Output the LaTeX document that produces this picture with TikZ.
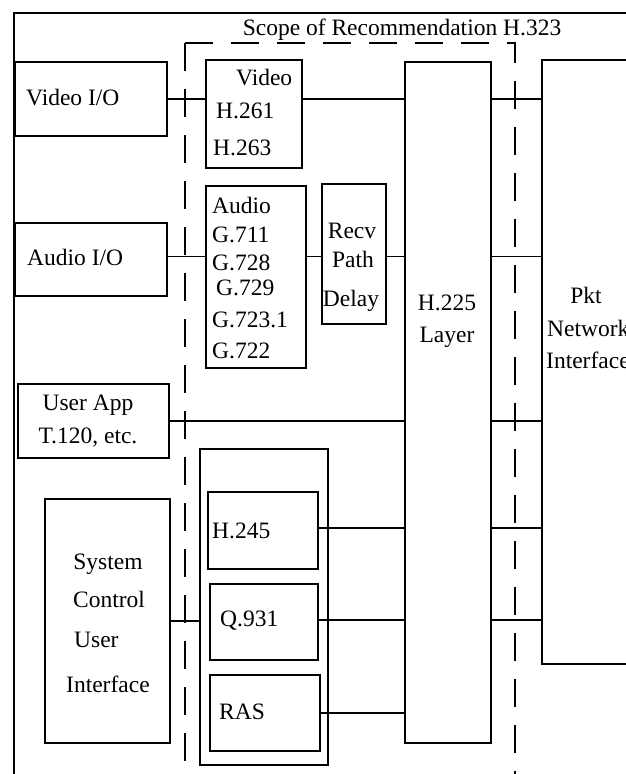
\documentclass[tikz,border=0pt]{standalone}
\usepackage{fontspec}
\setmainfont{Liberation Serif}
\begin{document}
\begin{tikzpicture}[x=1pt,y=-1pt,
  box/.style={draw, line width=1.8pt, inner sep=0pt, anchor=north west},
  txt/.style={inner sep=0pt, font=\fontsize{23.5}{28}\selectfont},
  tw/.style={txt, anchor=base west},
  tc/.style={txt, anchor=base},
  wire/.style={line width=1.8pt},
  scope/.style={line width=1.7pt, dash pattern=on 28pt off 18pt}]
\useasboundingbox (0,0) rectangle (626,774);
\clip (0,0) rectangle (626,774);
\fill[white] (0,0) rectangle (626,774);
% outer frame
\draw[line width=2pt] (14,780) -- (14,13) -- (640,13);
% scope
\node[tc] (scopetxt) at (402,35) {Scope of Recommendation H.323};
\draw[scope] (185,43) -- (515,43) -- (515,780);
\draw[scope] (185,43) -- (185,766);
% boxes
\node[box, minimum width=152, minimum height=74] (vio) at (14,61) {};
\node[box, minimum width=96, minimum height=108] (video) at (205,59) {};
\node[box, minimum width=152, minimum height=73] (aio) at (14,222) {};
\node[box, minimum width=100, minimum height=182] (audio) at (205,185) {};
\node[box, minimum width=64, minimum height=140] (recv) at (321,183) {};
\node[box, minimum width=86, minimum height=681] (h225) at (404,61) {};
\node[box, minimum width=200, minimum height=604] (pkt) at (541,59) {};
\node[box, minimum width=151, minimum height=74] (uapp) at (17,383) {};
\node[box, minimum width=128, minimum height=316] (ctrl) at (199,448) {};
\node[box, minimum width=110, minimum height=77] (h245) at (207,491) {};
\node[box, minimum width=108, minimum height=76] (q931) at (209,583) {};
\node[box, minimum width=110, minimum height=76] (ras) at (209,674) {};
\node[box, minimum width=125, minimum height=244] (sys) at (44,498) {};
% texts
\node[tw] (tvio) at (26,105) {Video I/O};
\node[tw] (tvid1) at (236,85) {Video};
\node[tw] (tvid2) at (216,118) {H.261};
\node[tw] (tvid3) at (213,155) {H.263};
\node[tw] (taio) at (27,265) {Audio I/O};
\node[tw] (tau1) at (212,213) {Audio};
\node[tw] (tau2) at (212,242) {G.711};
\node[tw] (tau3) at (212,270) {G.728};
\node[tw] (tau4) at (216,295) {G.729};
\node[tw] (tau5) at (212,327) {G.723.1};
\node[tw] (tau6) at (212,358) {G.722};
\node[tc] (trc1) at (352,238) {Recv};
\node[tc] (trc2) at (353,267) {Path};
\node[tc] (trc3) at (351,306) {Delay};
\node[tc] (th1) at (447,310) {H.225};
\node[tc] (th2) at (447,342) {Layer};
\node[tc] (tp1) at (586,303) {Pkt};
\node[tw] (tp2) at (547,336) {Network};
\node[tw] (tp3) at (546,368) {Interface};
\node[tc] (tua1) at (88,410) {User App};
\node[tc] (tua2) at (88,443) {T.120, etc.};
\node[tw] (th245) at (212,538) {H.245};
\node[tw] (tq931) at (220,626) {Q.931};
\node[tw] (tras) at (219,719) {RAS};
\node[tc] (ts1) at (108,569) {System};
\node[tc] (ts2) at (109,607) {Control};
\node[tw] (ts3) at (74,647) {User};
\node[tw] (ts4) at (66,692) {Interface};
% connector anchors
\coordinate (caio) at ([yshift=3pt]aio.east);
\coordinate (c245) at ([yshift=2.5pt]h245.east);
\coordinate (c931) at ([yshift=2pt]q931.east);
% connectors
\draw[wire] (vio.east) -- (vio.east -| video.west);
\draw[wire] (video.east |- vio.east) -- (h225.west |- vio.east);
\draw[wire] (h225.east |- vio.east) -- (pkt.west |- vio.east);
\draw[wire] (caio) -- (caio -| audio.west);
\draw[wire] (audio.east |- caio) -- (recv.west |- caio);
\draw[wire] (recv.east |- caio) -- (h225.west |- caio);
\draw[wire] (h225.east |- caio) -- (pkt.west |- caio);
\draw[wire] (uapp.east) -- (uapp.east -| h225.west);
\draw[wire] (h225.east |- uapp.east) -- (pkt.west |- uapp.east);
\draw[wire] (c245) -- (c245 -| h225.west);
\draw[wire] (h225.east |- c245) -- (pkt.west |- c245);
\draw[wire] (c931) -- (c931 -| h225.west);
\draw[wire] (h225.east |- c931) -- (pkt.west |- c931);
\draw[wire] (ras.east) -- (ras.east -| h225.west);
\draw[wire] (sys.east) -- (sys.east -| ctrl.west);
\end{tikzpicture}
\end{document}
